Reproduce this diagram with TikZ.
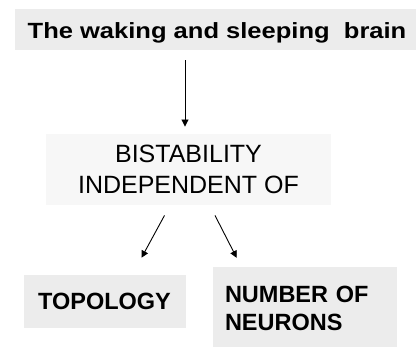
\documentclass[tikz,border=0pt]{standalone}
\usepackage{fontspec}
\setmainfont{Liberation Sans}
\usepackage{graphicx}
\usetikzlibrary{arrows.meta}
\begin{document}
\begin{tikzpicture}[x=1pt,y=-1pt,line width=0.9pt,
		box/.style={fill=gray!15,inner sep=0pt},
		arr/.style={-{Triangle[length=7pt,width=7pt]}}]
			\useasboundingbox (0,0) rectangle (416,347);
			\node[box,minimum width=401pt,minimum height=41pt,text height=20pt,text depth=2.2pt,font=\fontsize{22}{26}\selectfont\bfseries] (title) at (215.5,29.5){\hspace{3pt}\scalebox{1.16}[1]{The waking and sleeping\ \ brain}};
			\node[box,fill=gray!6,minimum width=285pt,minimum height=71pt,align=center,font=\fontsize{25}{30.3}\selectfont] (bist) at (188.5,169.5){BISTABILITY\\INDEPENDENT OF};
			\node[box,minimum width=162pt,minimum height=53pt,font=\fontsize{23.5}{27}\selectfont\bfseries] (topo) at (104.5,301.7){TOPOLOGY};
			\node[box,minimum width=183.4pt,minimum height=83pt,text width=160pt,inner xsep=11.7pt,align=left,font=\fontsize{23.5}{27.3}\selectfont\bfseries] (neur) at (305,308.5){NUMBER OF\\NEURONS};
			\draw[arr,shorten <=10pt,shorten >=7pt] ([xshift=-3.5pt]bist.north |- title.south)--([xshift=-3.5pt]bist.north);
			\draw[arr] ([xshift=-24pt,yshift=-10pt]bist.south)--([xshift=37pt,yshift=17pt]topo.north);
			\draw[arr] ([xshift=26.5pt,yshift=-10pt]bist.south)--([xshift=-68.3pt,yshift=8.7pt]neur.north);
	\end{tikzpicture}
\end{document}
